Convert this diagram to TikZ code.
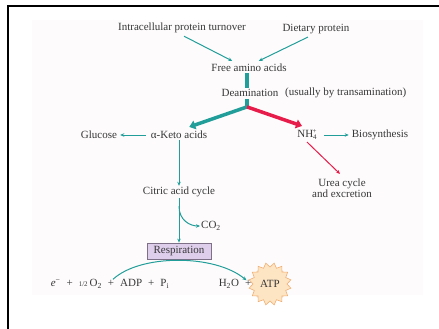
\documentclass[tikz,border=0pt]{standalone}
\usepackage{fontspec}
\setmainfont{Liberation Serif}
\usetikzlibrary{arrows.meta,shapes.geometric,calc}
\definecolor{teal1}{RGB}{34,158,154}
\definecolor{red1}{RGB}{232,28,74}
\definecolor{txt}{RGB}{55,55,55}
\definecolor{respfill}{RGB}{222,206,236}
\definecolor{respdraw}{RGB}{125,112,135}
\definecolor{paper}{RGB}{253,251,251}
\definecolor{starfill}{RGB}{253,228,195}
\definecolor{stardraw}{RGB}{240,175,115}
\newcommand\gap{\hspace{0.55em}}
\begin{document}
\begin{tikzpicture}[x=1pt,y=-1pt,
  lbl/.style={text=txt,font=\fontsize{11}{12.5}\selectfont,inner sep=1pt},
  thin arrow/.style={draw=teal1,line width=1pt,-{Stealth[length=4pt,width=3.5pt]}},
  red arrow/.style={draw=red1,line width=1pt,-{Stealth[length=4pt,width=3.5pt]}},
  thick teal/.style={draw=teal1,line width=4.5pt},
  thick arrow/.style={line width=3.5pt,-{Triangle[length=6pt,width=9pt]}},
  resp box/.style={draw=respdraw,fill=respfill,line width=0.8pt,minimum width=64pt,minimum height=16pt,inner sep=1pt}]
\useasboundingbox (0,0) rectangle (439,329);
% paper and frame
\fill[paper] (32,20) rectangle (423,295);
\draw[line width=2pt,black] (8,329) -- (8,6) -- (439,6);
% nodes
\node[lbl] (intra) at (182,28) {Intracellular protein turnover};
\node[lbl] (diet) at (316,29) {Dietary protein};
\node[lbl] (free) at (249,68) {Free amino acids};
\node[lbl] (deam) at (250,93) {Deamination};
\node[lbl,anchor=west] (usual) at (284,93) {(usually by transamination)};
\node[lbl] (keto) at (179,135) {α-Keto acids};
\node[lbl] (gluc) at (99,135) {Glucose};
\node[lbl] (nh) at (307,135) {NH\raisebox{-2.5pt}{\scriptsize 4}};
\node[lbl,font=\scriptsize,inner sep=0pt,anchor=south west] (nhp) at ($(nh.east)+(-5.5,-1)$) {+};
\node[lbl] (bio) at (380,135) {Biosynthesis};
\node[lbl,align=center] (urea) at (342,188.5) {Urea cycle\\[-1.5pt]and excretion};
\node[lbl] (citric) at (179,192) {Citric acid cycle};
\node[lbl] (co2) at (211,226) {CO\textsubscript{2}};
\node[resp box,lbl,inner sep=1pt] (resp) at (179,251) {Respiration};
\node[lbl] (eql) at (110,284) {\textit{e}\textsuperscript{−}\gap+\gap{\scriptsize 1/2}\,O\textsubscript{2}\gap+\gap ADP\gap+\gap P\textsubscript{i}};
\node[star,star points=16,star point ratio=0.8,minimum size=34pt,fill=starfill,draw=stardraw,line width=0.6pt,inner sep=0pt] (star) at (270,284) {};
\node[lbl] (h2o) at (235,284) {H\textsubscript{2}O\gap+};
\node[lbl] (atp) at (270,284) {ATP};
% top arrows
\draw[thin arrow] ($(intra.south)+(2,2)$) -- ($(free.north west)+(22,-2)$);
\draw[thin arrow] ($(diet.south)+(-8,2)$) -- ($(free.north east)+(-29,-2)$);
% thick bar
\draw[thick teal] ($(free.south)+(-2,0)$) -- ($(deam.north)+(-3,0)$);
\coordinate (br) at ($(deam.south)+(-3,9)$);
\draw[thick teal] ($(deam.south)+(-3,1)$) -- (br);
\draw[thick arrow,draw=teal1,fill=teal1] (br) -- ($(keto.north east)+(-19,-3)$);
\draw[thick arrow,draw=red1,fill=red1] (br) -- ($(nh.north)+(-5,-3)$);
% side arrows
\draw[thin arrow] ($(keto.west)+(-4,0)$) -- ($(gluc.east)+(2,0)$);
\draw[thin arrow] ($(nh.east)+(6,0)$) -- ($(bio.west)+(-2,0)$);
\draw[red arrow] ($(nh.south)+(0,1)$) -- ($(urea.north)+(-2,-4)$);
% vertical chain
\draw[thin arrow] (keto.south) -- (citric.north);
\draw[thin arrow] (citric.south) -- (resp.north);
\coordinate (cb) at ($(citric.south)+(0,8)$);
\draw[thin arrow] (cb) .. controls ($(cb)+(0,14)$) and ($(co2.west)+(-10,0)$) .. (co2.west);
% respiration arc
\coordinate (a1) at ($(eql.north)+(3,1)$);
\coordinate (a2) at ($(h2o.north east)+(-6,2)$);
\draw[thin arrow] (a1) .. controls (140,254) and (215,254) .. (a2);
\end{tikzpicture}
\end{document}
